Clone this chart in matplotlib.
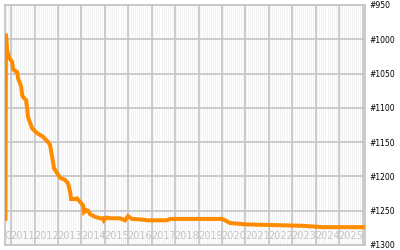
import numpy as np
import matplotlib
matplotlib.use("Agg")
import matplotlib.pyplot as plt

# rank history: x in decimal years, y = rank (lower is better)
years = [2010.76, 2010.78, 2010.83, 2010.92, 2011.04, 2011.09, 2011.26, 2011.30,
         2011.43, 2011.47, 2011.51, 2011.64, 2011.68, 2011.72, 2011.81, 2011.90,
         2012.11, 2012.36, 2012.58, 2012.66, 2012.75, 2012.83, 2012.96, 2013.09,
         2013.30, 2013.43, 2013.52, 2013.56, 2013.73, 2013.81, 2013.94, 2014.07,
         2014.11, 2014.20, 2014.28, 2014.37, 2014.58, 2014.80, 2014.90, 2014.95,
         2015.01, 2015.09, 2015.22, 2015.65, 2015.86, 2015.99, 2016.16, 2016.63,
         2016.80, 2017.14, 2017.65, 2017.78, 2020.00, 2020.13, 2020.34, 2021.06,
         2023.45, 2024.30, 2026.10]
ranks = [1262, 992, 1016, 1027, 1033, 1044, 1048, 1057,
         1069, 1081, 1084, 1089, 1099, 1113, 1122, 1130,
         1137, 1142, 1150, 1154, 1171, 1188, 1195, 1202,
         1205, 1210, 1223, 1233, 1233, 1232, 1237, 1242,
         1252, 1249, 1250, 1255, 1259, 1261, 1261, 1264,
         1261, 1260, 1261, 1261, 1264, 1258, 1262, 1263,
         1264, 1264, 1264, 1262, 1262, 1264, 1268, 1270,
         1272, 1274, 1274]

year_labels = list(range(2010, 2026))
rank_ticks = list(range(950, 1301, 50))

fig = plt.figure(figsize=(4, 2.5), dpi=100)
ax = fig.add_axes([5 / 400, 5 / 250, 360 / 400, 240 / 250])
ax.set_facecolor("#efefef")

x0, x1 = 2010.74, 2026.10
ax.set_xlim(x0, x1)
ax.set_ylim(1300, 950)

# monthly white stripes, yearly grey lines
for m in np.arange(2010 + 10 / 12, x1, 1 / 12):
    ax.axvline(m, color="white", lw=0.9, zorder=0)
for y in range(2011, 2027):
    ax.axvline(y, color="#c4c4c4", lw=1.2, zorder=1)
for r in rank_ticks:
    ax.axhline(r, color="#c4c4c4", lw=1.2, zorder=1)

ax.plot(years, ranks, color="#ff8c00", lw=2.9, solid_joinstyle="miter", zorder=3)

for y in year_labels:
    ax.text(y + 0.5, 1287, str(y), ha="center", va="center", fontsize=7,
            color="#c4c4c4", clip_on=True, zorder=2)

ax.set_xticks([])
ax.yaxis.tick_right()
ax.set_yticks(rank_ticks)
ax.set_yticklabels(["#%d" % r for r in rank_ticks], fontsize=5.5)
ax.tick_params(axis="y", length=0, pad=3)
for s in ax.spines.values():
    s.set_color("#c4c4c4")
    s.set_linewidth(1.2)

fig.savefig("out.png", dpi=100)
